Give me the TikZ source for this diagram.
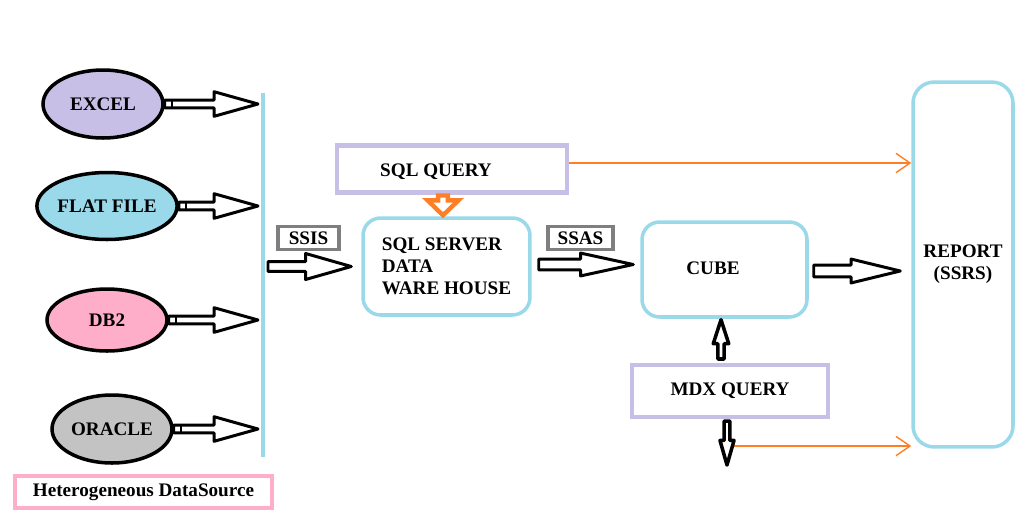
\documentclass[tikz,border=0pt]{standalone}
\usepackage{fontspec}
\setmainfont{Liberation Serif}[BoldFont={Liberation Serif Bold}]
\usetikzlibrary{calc,arrows.meta,shapes.geometric}
\definecolor{lav}{HTML}{C8BFE7}
\definecolor{sky}{HTML}{99D9EA}
\definecolor{pinkc}{HTML}{FFAEC9}
\definecolor{greyc}{HTML}{C3C3C3}
\definecolor{labg}{HTML}{7F7F7F}
\definecolor{orng}{HTML}{FF7F27}
\newcommand{\blockarr}[6]{%
  \coordinate (neck) at ($(#3)!#6!(#2)$);
  \path[#1] ($(#2)!#4!90:(#3)$) -- ($(neck)!#4!90:(#3)$) -- ($(neck)!#5!90:(#3)$) -- (#3)
    -- ($(neck)!#5!-90:(#3)$) -- ($(neck)!#4!-90:(#3)$) -- ($(#2)!#4!-90:(#3)$) -- cycle;}
\tikzset{
  txt/.style={font=\fontsize{10.9}{12.5}\selectfont\bfseries},
  src/.style={ellipse, draw=black, line width=2pt, minimum width=2.4cm, minimum height=1.36cm, inner sep=0pt, txt},
  procbox/.style={draw=sky, line width=2pt, rounded corners=10pt, align=left, txt},
  qbox/.style={draw=lav, line width=2.3pt, txt},
  tagbox/.style={draw=labg, line width=2pt, inner sep=0pt, txt},
  barrow/.style={draw=black, fill=white, line width=1.7pt, line join=round},
  oarrow/.style={draw=orng, fill=white, line width=2.5pt, line join=miter},
  oline/.style={draw=orng, line width=0.8pt, -{Straight Barb[length=8pt,width=11pt,line width=0.8pt]}}
}
\begin{document}
\begin{tikzpicture}[x=0.02cm, y=-0.02cm]
\useasboundingbox (0,0) rectangle (1024,518);

% sources
\node[src, fill=lav] (excel) at (103,104) {EXCEL};
\node[src, fill=sky, minimum height=1.34cm] (flat) at (107,206) {FLAT FILE};
\node[src, fill=pinkc, minimum height=1.24cm] (db2) at (107,320) {DB2};
\node[src, fill=greyc] (oracle) at (112,429) {ORACLE};

% bus line
\coordinate (bustop) at (263,93);
\coordinate (busbot) at (263,457);
\draw[sky, line width=2pt] (bustop) -- (busbot);

\foreach \s in {excel,flat,db2,oracle}{
  \path (\s.east) coordinate (\s S);
  \path (\s.east -| bustop) ++(-5,0) coordinate (\s E);
  \blockarr{barrow}{\s S}{\s E}{2.2pt}{7pt}{25pt}
  \draw[line width=1pt] ($(\s S)+(7,-4)$) -- ($(\s S)+(7,4)$);
}

\node[draw=pinkc, line width=1.8pt, minimum width=5.14cm, minimum height=0.64cm, txt] (hds) at (143.5,492) {Heterogeneous DataSource};

% main boxes
\node[qbox, minimum width=4.6cm, minimum height=0.94cm] (sq) at (452,169) {};
\node[txt] (sqt) at (436,172) {SQL QUERY};
\node[procbox, minimum width=3.34cm, minimum height=1.94cm] (dw) at (446.5,266.5) {SQL SERVER\\DATA\\WARE HOUSE};
\node[procbox, minimum width=3.3cm, minimum height=1.9cm] (cube) at (724.5,269.5) {};
\node[txt] (cubet) at (713,268) {CUBE};
\node[procbox, align=center, rounded corners=12pt, minimum width=2cm, minimum height=7.3cm] (report) at (963,264.5) {REPORT\\(SSRS)};
\node[qbox, minimum width=3.92cm, minimum height=1.04cm] (mdx) at (730,391) {MDX QUERY};

\node[tagbox, minimum width=1.22cm, minimum height=0.46cm] (ssis) at (308.5,238) {SSIS};
\node[tagbox, minimum width=1.3cm, minimum height=0.46cm] (ssas) at (580.5,238) {SSAS};

% block arrows
\path (dw.west -| bustop) ++(5,0) coordinate (ssisS);
\path (dw.west) ++(-10,0) coordinate (ssisE);
\blockarr{barrow}{ssisS}{ssisE}{2.8pt}{7.4pt}{26pt}

\path (dw.east) ++(7,-2) coordinate (ssasS);
\path (ssasS -| cube.west) ++(-7,0) coordinate (ssasE);
\blockarr{barrow}{ssasS}{ssasE}{3.1pt}{6.5pt}{30pt}

\path (cube.east) ++(5,1.5) coordinate (crS);
\path (crS -| report.west) ++(-11,0) coordinate (crE);
\blockarr{barrow}{crS}{crE}{3.4pt}{6.8pt}{28pt}

\path (sq.south) ++(-9,1) coordinate (oqS);
\path (oqS |- dw.north) ++(0,-1) coordinate (oqE);
\blockarr{oarrow}{oqS}{oqE}{2.8pt}{8.8pt}{8.5pt}

% orange lines
\path (sq.east) ++(0,-6) coordinate (o1S);
\draw[oline] (o1S) -- (o1S -| report.west);

\path (mdx.north) ++(-9,-4) coordinate (upS);
\path (upS |- cube.south) ++(0,1) coordinate (upE);
\blockarr{barrow, line width=2pt}{upS}{upE}{1.8pt}{4.4pt}{13.6pt}

\path (mdx.south) ++(-3,2) coordinate (dnS);
\path (dnS) ++(0,44) coordinate (dnE);
\path (dnS) ++(5,25) coordinate (o2S);
\draw[oline] (o2S) -- (o2S -| report.west);
\blockarr{barrow, line width=2pt}{dnS}{dnE}{1.6pt}{4pt}{14pt}
\end{tikzpicture}
\end{document}
